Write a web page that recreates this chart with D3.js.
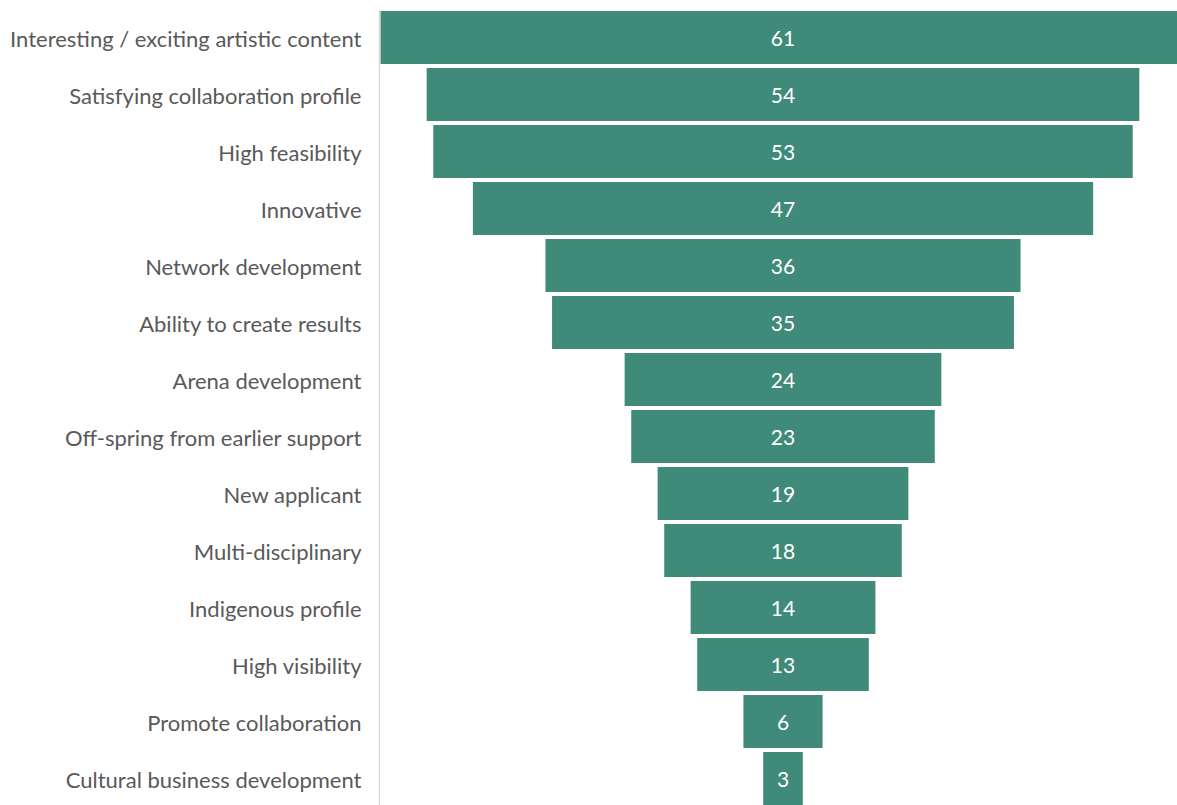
<!DOCTYPE html>
<html>
<head>
<meta charset="utf-8">
<script src="https://cdn.jsdelivr.net/npm/d3@7"></script>
<style>
  html, body { margin: 0; padding: 0; background: #fff; overflow: hidden; }
  text { font-family: Lato, "Open Sans", sans-serif; }
</style>
</head>
<body>
<div id="chart"></div>
<script>
const categories = [
  "Interesting / exciting artistic content",
  "Satisfying collaboration profile",
  "High feasibility",
  "Innovative",
  "Network development",
  "Ability to create results",
  "Arena development",
  "Off-spring from earlier support",
  "New applicant",
  "Multi-disciplinary",
  "Indigenous profile",
  "High visibility",
  "Promote collaboration",
  "Cultural business development"
];
const counts = [61, 54, 53, 47, 36, 35, 24, 23, 19, 18, 14, 13, 6, 3];

const width = 1177, height = 805;
const axisX = 379.5;
const centerX = 783;

const svg = d3.select("#chart").append("svg")
  .attr("width", width)
  .attr("height", height);

const y = d3.scaleBand()
  .domain(categories)
  .range([9, 807])
  .paddingInner(0.07)
  .paddingOuter(0.035);

const w = d3.scaleLinear()
  .domain([0, 61])
  .range([0, 805]);

const data = categories.map((c, i) => ({ name: c, value: counts[i] }));

// bars (funnel, centred)
svg.selectAll(".bar")
  .data(data)
  .enter().append("rect")
  .attr("class", "bar")
  .attr("x", d => centerX - w(d.value) / 2)
  .attr("y", d => y(d.name))
  .attr("width", d => w(d.value))
  .attr("height", y.bandwidth())
  .attr("fill", "#3f8a78");

// value labels
svg.selectAll(".val")
  .data(data)
  .enter().append("text")
  .attr("class", "val")
  .attr("x", centerX)
  .attr("y", d => y(d.name) + y.bandwidth() / 2 + 1.5)
  .attr("dy", "0.35em")
  .attr("text-anchor", "middle")
  .attr("fill", "#fff")
  .style("font-size", "21px")
  .text(d => d.value);

// category axis
const axis = svg.append("g")
  .attr("transform", `translate(${axisX},0)`)
  .call(d3.axisLeft(y).tickSize(0).tickPadding(18));

axis.select(".domain")
  .attr("stroke", "#d9d9d9")
  .attr("stroke-width", 1.5)
  .attr("d", "M0,10V805");

axis.selectAll("text")
  .attr("fill", "#595959")
  .attr("dy", "0.42em")
  .style("font-family", "Lato, 'Open Sans', sans-serif")
  .style("font-size", "22px");
</script>
</body>
</html>
